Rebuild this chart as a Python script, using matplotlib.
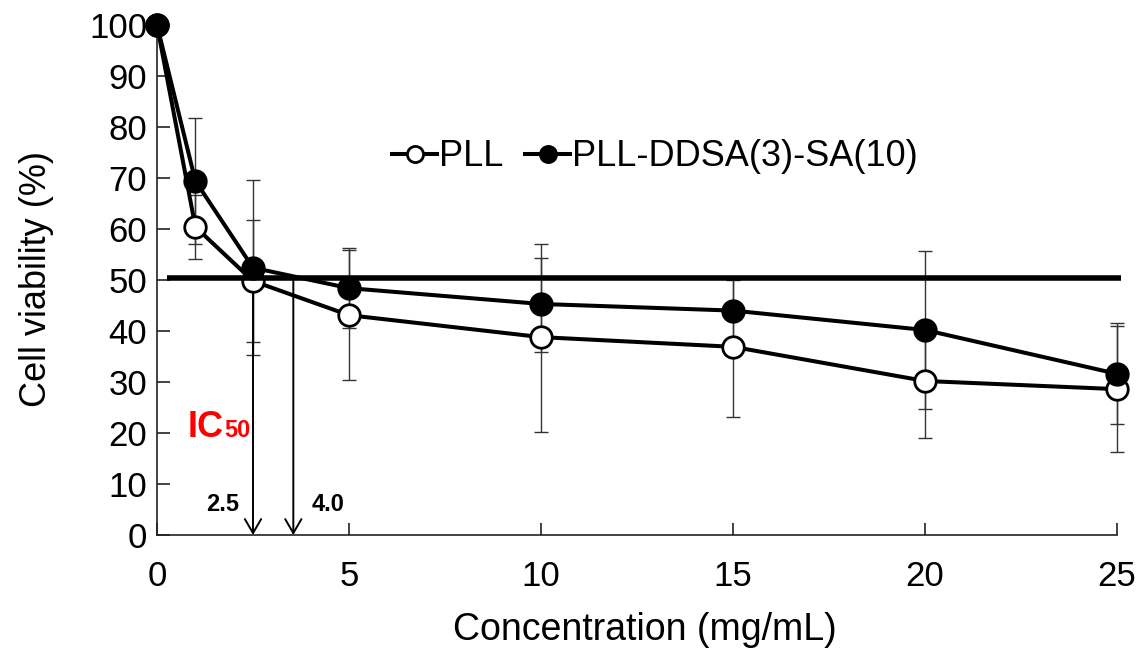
import matplotlib
matplotlib.use("Agg")
import matplotlib.pyplot as plt

plt.rcParams['font.family'] = ['Liberation Sans', 'DejaVu Sans']

conc = [0, 1, 2.5, 5, 10, 15, 20, 25]

pll = [100, 60.4, 49.8, 43.1, 38.8, 36.9, 30.2, 28.6]
pll_err_low = [0, 6.3, 12.0, 12.8, 18.6, 13.7, 11.1, 12.3]
pll_err_up = [0, 6.3, 12.0, 12.8, 15.6, 13.7, 11.1, 12.3]

ddsa = [100, 69.4, 52.4, 48.4, 45.3, 44.0, 40.2, 31.6]
ddsa_err_low = [0, 12.4, 17.2, 7.9, 9.4, 6.0, 15.5, 9.9]
ddsa_err_up = [0, 12.4, 17.2, 7.9, 11.8, 6.0, 15.5, 9.9]

ic50_level = 50.3
arrow_x = [2.5, 3.55]
arrow_labels = ["2.5", "4.0"]
label_x = [1.7, 4.45]

W, H = 1148, 651
fig = plt.figure(figsize=(W / 100, H / 100), dpi=100)
ax = fig.add_axes([157 / W, 1 - 535 / H, 960 / W, 510 / H])

# error bars behind everything
ax.errorbar(conc, pll, yerr=[pll_err_low, pll_err_up], fmt='none', ecolor='#333333',
            elinewidth=1.0, capsize=5, capthick=1.0, zorder=1, clip_on=False)
ax.errorbar(conc, ddsa, yerr=[ddsa_err_low, ddsa_err_up], fmt='none', ecolor='#333333',
            elinewidth=1.0, capsize=5, capthick=1.0, zorder=1, clip_on=False)

ax.plot(conc, pll, '-o', color='black', lw=2.9, ms=15.5, mfc='white', mec='black',
        mew=2, label='PLL', zorder=3, clip_on=False)
ax.plot(conc, ddsa, '-o', color='black', lw=2.9, ms=15.5, mfc='black', mec='black',
        mew=2, label='PLL-DDSA(3)-SA(10)', zorder=4, clip_on=False)

ax.plot([0.25, 25.1], [ic50_level, ic50_level], color='black', lw=4, zorder=5,
        clip_on=False, solid_capstyle='butt')

for xa in arrow_x:
    ax.annotate('', xy=(xa, 0), xytext=(xa, ic50_level),
                arrowprops=dict(arrowstyle='->,head_length=0.67,head_width=0.39',
                                lw=1.4, color='black', shrinkA=0, shrinkB=0,
                                mutation_scale=15), zorder=2)
for lx, lab in zip(label_x, arrow_labels):
    ax.text(lx, 5.9, lab, fontsize=17, fontweight='bold', ha='center', va='center')

ax.text(0.81, 19.2, "IC", color='#ff0000', fontsize=26, fontweight='bold',
        ha='left', va='baseline')
ax.text(1.74, 19.2, "50", color='#ff0000', fontsize=17, fontweight='bold',
        ha='left', va='baseline')

ax.set_xlim(0, 25)
ax.set_ylim(0, 100)
ax.set_xticks([0, 5, 10, 15, 20, 25])
ax.set_yticks(range(0, 101, 10))
for s in ['top', 'right']:
    ax.spines[s].set_visible(False)
for s in ['left', 'bottom']:
    ax.spines[s].set_linewidth(1.2)
    ax.spines[s].set_color('#222222')
ax.tick_params(axis='both', direction='in', length=9, width=1.2, color='#222222')
ax.tick_params(axis='y', labelsize=25, pad=7)
ax.tick_params(axis='x', labelsize=25, pad=18)

fig.text(37 / W, 1 - 279 / H, "Cell viability (%)", rotation=90, fontsize=26,
         ha='center', va='center')
fig.text(645 / W, 1 - 630 / H, "Concentration (mg/mL)", fontsize=27,
         ha='center', va='center')

ax.legend(loc='center', bbox_to_anchor=(655 / W, 1 - 157 / H), bbox_transform=fig.transFigure,
          ncol=2, frameon=False, fontsize=26, handlelength=1.25, handletextpad=0.05,
          columnspacing=0.6, markerscale=0.75, numpoints=1)

fig.savefig("out.png", dpi=100)
